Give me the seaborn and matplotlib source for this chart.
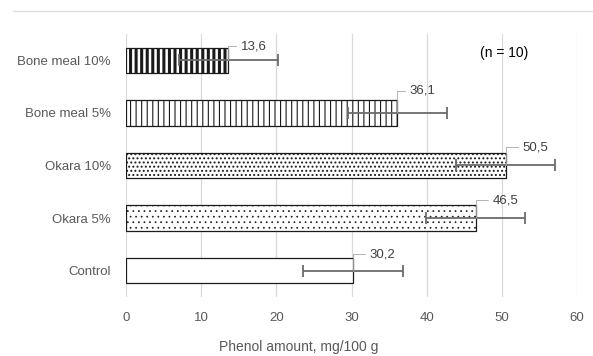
import numpy as np
import matplotlib
matplotlib.use("Agg")
import matplotlib.pyplot as plt
from matplotlib.lines import Line2D
import seaborn as sns

# data
groups = ["Bone meal 10%", "Bone meal 5%", "Okara 10%", "Okara 5%", "Control"]
phenol = [13.6, 36.1, 50.5, 46.5, 30.2]
sd = [6.6, 6.6, 6.6, 6.6, 6.6]
x_ticks = [0, 10, 20, 30, 40, 50, 60]

# styling per bar (hatch, hatch linewidth) and label offsets in points
hatches = ["|||", "|||", "....", "...", ""]
hatch_lw = [2.2, 0.8, 0.9, 0.5, 0.8]
label_off = [(9, 10), (9, 16), (12, 13), (12, 13), (12, 12)]

sns.set_style("white")
plt.rcParams["font.family"] = ["Liberation Sans", "DejaVu Sans"]
grey = "#595959"

fig = plt.figure(figsize=(5.93, 3.56), dpi=100)
ax = fig.add_axes([126 / 593, 1 - 297 / 356, 451 / 593, 263 / 356])

sns.barplot(x=phenol, y=groups, orient="h", color="white", edgecolor="#1a1a1a",
            linewidth=0.9, width=0.48, errorbar=None, ax=ax, zorder=3)

for p, h, lw in zip(ax.patches, hatches, hatch_lw):
    p.set_hatch(h)
    try:
        p.set_hatch_linewidth(lw)
    except AttributeError:
        pass

ax.errorbar(phenol, np.arange(len(groups)), xerr=sd, fmt="none",
            ecolor="#6b6b6b", elinewidth=1.3, capsize=4.5, capthick=1.3, zorder=4)

for i, (v, off) in enumerate(zip(phenol, label_off)):
    ax.annotate(f"{v:.1f}".replace(".", ","), xy=(v, i), xytext=off,
                textcoords="offset points", ha="left", va="center",
                fontsize=9.5, color="#404040", zorder=5,
                arrowprops=dict(arrowstyle="-", color="#a6a6a6", lw=0.6,
                                shrinkA=1, shrinkB=0,
                                connectionstyle="angle,angleA=0,angleB=90,rad=0"))

ax.set_xlim(0, 60)
ax.set_ylim(4.5, -0.5)
ax.set_xticks(x_ticks)
ax.grid(axis="x", color="#d9d9d9", lw=0.9, zorder=0)
ax.grid(axis="y", visible=False)
for s in ax.spines.values():
    s.set_visible(False)
ax.tick_params(axis="both", length=0, labelsize=9.5, labelcolor=grey)
ax.tick_params(axis="y", pad=11)
ax.tick_params(axis="x", pad=11)
ax.set_ylabel("")
ax.set_xlabel("Phenol amount, mg/100 g", fontsize=10, color=grey, va="center")
ax.xaxis.set_label_coords(0.384, -0.189)

ax.text(0.785, 0.928, "(n = 10)", transform=ax.transAxes, ha="left", va="center",
        fontsize=10, color="black")

fig.add_artist(Line2D([13 / 593, 1], [1 - 11 / 356, 1 - 11 / 356],
                      color="#d9d9d9", lw=0.9))

fig.savefig("out.png", dpi=100)
